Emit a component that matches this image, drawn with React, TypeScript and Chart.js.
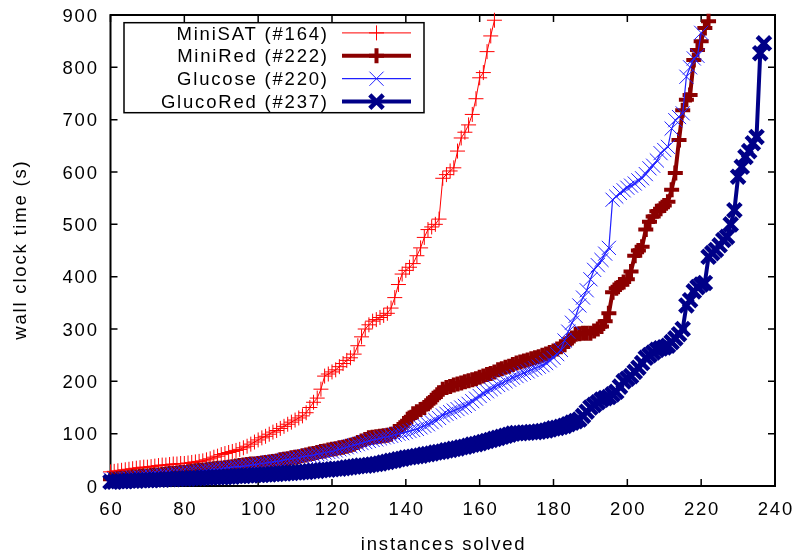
import React, { useEffect, useRef } from 'react';
import { Chart, registerables } from 'chart.js';

Chart.register(...registerables);

// ---------- data ----------
const X_START = 60; // first plotted instance index
const xTicks = [60, 80, 100, 120, 140, 160, 180, 200, 220, 240];
const yTicks = [0, 100, 200, 300, 400, 500, 600, 700, 800, 900];
const xTitle = 'instances solved';
const yTitle = 'wall clock time (s)';
const seriesNames = ['MiniSAT (#164)', 'MiniRed (#222)', 'Glucose (#220)', 'GlucoRed (#237)'];

const miniSat = [
  27, 28, 29, 30, 31, 32, 33, 34, 35, 36,
  36, 37, 38, 39, 40, 40, 41, 42, 42, 43,
  43, 44, 45, 46, 47, 48, 50, 52, 55, 57,
  60, 62, 64, 66, 68, 70, 73, 76, 80, 84,
  88, 92, 95, 99, 103, 106, 110, 114, 118, 122,
  126, 130, 134, 140, 150, 160, 168, 185, 210, 214,
  218, 222, 228, 234, 240, 245, 252, 268, 285, 300,
  308, 315, 318, 322, 326, 330, 340, 360, 385, 405,
  412, 418, 425, 440, 455, 475, 490, 495, 500, 510,
  588, 595, 602, 608, 640, 665, 676, 690, 710, 740,
  780, 790, 830, 860, 890,
];

const miniRed = [
  13, 13, 14, 15, 15, 16, 17, 17, 18, 19,
  19, 20, 21, 21, 22, 23, 24, 24, 25, 26,
  26, 27, 28, 29, 30, 30, 31, 32, 33, 34,
  34, 35, 36, 37, 38, 39, 40, 41, 42, 42,
  43, 44, 45, 46, 47, 48, 50, 51, 52, 54,
  55, 56, 58, 59, 61, 62, 64, 66, 67, 69,
  70, 71, 73, 74, 76, 78, 80, 83, 86, 89,
  92, 93, 94, 95, 96, 97, 99, 104, 108, 114,
  122, 130, 138, 142, 146, 150, 157, 164, 170, 178,
  185, 188, 190, 193, 195, 197, 199, 201, 203, 205,
  208, 210, 213, 215, 218, 222, 224, 227, 229, 232,
  235, 237, 239, 241, 243, 245, 247, 250, 252, 255,
  258, 262, 266, 270, 276, 283, 290, 291, 292, 292,
  292, 296, 300, 305, 315, 330, 370, 378, 385, 390,
  395, 410, 440, 450, 457, 490, 505, 515, 525, 530,
  536, 543, 566, 598, 661, 718, 738, 747, 814, 833,
  850, 875, 888,
];

const glucose = [
  12, 13, 13, 14, 14, 15, 16, 16, 17, 17,
  18, 19, 19, 20, 21, 21, 22, 23, 24, 24,
  25, 26, 27, 27, 28, 29, 30, 31, 32, 32,
  33, 34, 35, 36, 37, 37, 38, 39, 40, 41,
  42, 43, 44, 45, 46, 47, 48, 50, 51, 52,
  53, 54, 56, 57, 58, 59, 61, 62, 64, 65,
  66, 68, 70, 72, 74, 76, 78, 80, 82, 84,
  86, 88, 89, 91, 93, 94, 96, 98, 100, 101,
  103, 105, 107, 109, 112, 115, 118, 122, 126, 130,
  135, 138, 141, 144, 147, 150, 153, 157, 162, 167,
  172, 177, 181, 185, 189, 193, 196, 200, 203, 207,
  210, 213, 216, 219, 222, 225, 228, 231, 235, 240,
  245, 252, 260, 278, 295, 312, 325, 345, 360, 374,
  395, 413, 422, 432, 444, 455, 547, 553, 560, 565,
  570, 574, 578, 584, 588, 596, 607, 612, 622, 636,
  642, 648, 683, 699, 705, 712, 782, 800, 817, 822,
  866,
];

const glucoRed = [
  8, 8, 9, 9, 9, 10, 10, 10, 11, 11,
  11, 11, 12, 12, 12, 13, 13, 13, 14, 14,
  14, 14, 15, 15, 15, 16, 16, 16, 17, 17,
  17, 17, 18, 18, 19, 19, 19, 20, 20, 21,
  21, 21, 22, 22, 23, 23, 24, 24, 25, 25,
  26, 26, 27, 27, 28, 29, 29, 30, 31, 31,
  32, 33, 33, 34, 35, 36, 37, 38, 39, 39,
  40, 41, 42, 43, 45, 46, 48, 49, 51, 52,
  54, 55, 56, 57, 58, 60, 61, 62, 64, 65,
  66, 68, 69, 71, 72, 74, 75, 77, 79, 80,
  82, 84, 86, 88, 90, 92, 94, 96, 98, 100,
  101, 101, 102, 102, 103, 103, 104, 105, 106, 108,
  110, 111, 113, 115, 118, 121, 124, 127, 134, 142,
  150, 155, 160, 165, 168, 170, 175, 180, 190, 200,
  205, 210, 218, 226, 235, 245, 250, 255, 260, 263,
  265, 268, 275, 282, 290, 300, 345, 355, 372, 380,
  385, 388, 438, 445, 451, 460, 470, 476, 500, 527,
  591, 610, 629, 640, 655, 667, 827, 846,
];

// ---------- styles ----------
const colors = ['#ff0000', '#8b0000', '#2020ff', '#000088'];
const lineWidths = [1, 4, 1.2, 4];
const pointStyles = ['cross', 'cross', 'crossRot', 'crossRot'];
const pointRadii = [7.5, 7.5, 10, 9.5];
const pointBorders = [1, 4, 1, 4.5];

const FONT = '18.5px "Liberation Sans", Arial, Helvetica, sans-serif';
const LETTER_SPACING = '1.8px';
const LS = 1.8;

const toPoints = (vals: number[]) => vals.map((y, i) => ({ x: X_START + i, y }));

function drawMarker(ctx: CanvasRenderingContext2D, style: string, x: number, y: number, r: number) {
  ctx.beginPath();
  if (style === 'cross') {
    ctx.moveTo(x - r, y);
    ctx.lineTo(x + r, y);
    ctx.moveTo(x, y - r);
    ctx.lineTo(x, y + r);
  } else {
    const d = r * Math.SQRT1_2;
    ctx.moveTo(x - d, y - d);
    ctx.lineTo(x + d, y + d);
    ctx.moveTo(x + d, y - d);
    ctx.lineTo(x - d, y + d);
  }
  ctx.stroke();
}

const gnuplotPlugin = {
  id: 'gnuplotFrame',
  beforeDatasetsDraw(chart: any) {
    const { ctx, chartArea: a, scales } = chart;
    const sx = scales.x;
    const sy = scales.y;
    ctx.save();
    ctx.strokeStyle = '#000';
    ctx.lineWidth = 1.5;
    ctx.beginPath();
    for (const v of xTicks) {
      const px = sx.getPixelForValue(v);
      ctx.moveTo(px, a.bottom);
      ctx.lineTo(px, a.bottom - 7);
      ctx.moveTo(px, a.top);
      ctx.lineTo(px, a.top + 7);
    }
    for (const v of yTicks) {
      const py = sy.getPixelForValue(v);
      ctx.moveTo(a.left, py);
      ctx.lineTo(a.left + 7, py);
      ctx.moveTo(a.right, py);
      ctx.lineTo(a.right - 7, py);
    }
    ctx.stroke();
    ctx.lineWidth = 2;
    ctx.strokeRect(a.left, a.top, a.right - a.left, a.bottom - a.top);

    ctx.fillStyle = '#000';
    ctx.font = FONT;
    (ctx as any).letterSpacing = LETTER_SPACING;
    ctx.textBaseline = 'alphabetic';
    // y tick labels
    ctx.textAlign = 'right';
    for (const v of yTicks) {
      const py = sy.getPixelForValue(v);
      ctx.fillText(String(v), 97 + LS, py + 6.6);
    }
    // x tick labels
    ctx.textAlign = 'center';
    for (const v of xTicks) {
      const px = sx.getPixelForValue(v);
      ctx.fillText(String(v), px + LS / 2, 515);
    }
    // x title
    ctx.fillText(xTitle, (a.left + a.right) / 2 + LS / 2, 549.5);
    // y title
    ctx.save();
    ctx.translate(26, (a.top + a.bottom) / 2);
    ctx.rotate(-Math.PI / 2);
    ctx.textAlign = 'center';
    ctx.fillText(yTitle, LS / 2, 0);
    ctx.restore();
    ctx.restore();
  },
  afterDraw(chart: any) {
    const { ctx } = chart;
    ctx.save();
    // legend box
    ctx.strokeStyle = '#000';
    ctx.lineWidth = 1.5;
    ctx.strokeRect(124, 22.7, 300, 90);
    ctx.fillStyle = '#000';
    ctx.font = FONT;
    (ctx as any).letterSpacing = LETTER_SPACING;
    ctx.textAlign = 'right';
    ctx.textBaseline = 'alphabetic';
    const baselines = [39.5, 62.4, 85.3, 108.2];
    seriesNames.forEach((name, i) => {
      const b = baselines[i];
      ctx.fillText(name, 327 + LS, b);
      const cy = b - 6.6;
      ctx.strokeStyle = colors[i];
      ctx.lineWidth = lineWidths[i];
      ctx.beginPath();
      ctx.moveTo(342, cy);
      ctx.lineTo(411, cy);
      ctx.stroke();
      ctx.lineWidth = pointBorders[i];
      drawMarker(ctx, pointStyles[i], 376.5, cy, pointRadii[i]);
    });
    ctx.restore();
  },
};

export default function App() {
  const ref = useRef<HTMLCanvasElement | null>(null);

  useEffect(() => {
    if (!ref.current) return;
    const series = [miniSat, miniRed, glucose, glucoRed];
    const datasets = series.map((vals, i) => ({
      label: seriesNames[i],
      data: toPoints(vals),
      borderColor: colors[i],
      backgroundColor: colors[i],
      borderWidth: lineWidths[i],
      pointStyle: pointStyles[i] as any,
      pointRadius: pointRadii[i],
      pointHoverRadius: pointRadii[i],
      pointBorderWidth: pointBorders[i],
      pointBorderColor: colors[i],
      pointBackgroundColor: colors[i],
      tension: 0,
      fill: false,
      clip: false as any,
      order: 3 - i,
    }));
    const chart = new Chart(ref.current, {
      type: 'line',
      data: { datasets },
      options: {
        animation: false,
        responsive: false,
        events: [],
        layout: { padding: { left: 110.5, right: 24, top: 15, bottom: 68 } },
        scales: {
          x: { type: 'linear', min: 60, max: 240, display: false },
          y: { type: 'linear', min: 0, max: 900, display: false },
        },
        plugins: {
          legend: { display: false },
          tooltip: { enabled: false },
          title: { display: false },
        },
      },
      plugins: [gnuplotPlugin],
    });
    return () => chart.destroy();
  }, []);

  return (
    <div style={{ position: 'absolute', left: 0, top: 0, width: 799, height: 554, background: '#fff' }}>
      <canvas ref={ref} width={799} height={554} style={{ display: 'block' }} />
    </div>
  );
}
